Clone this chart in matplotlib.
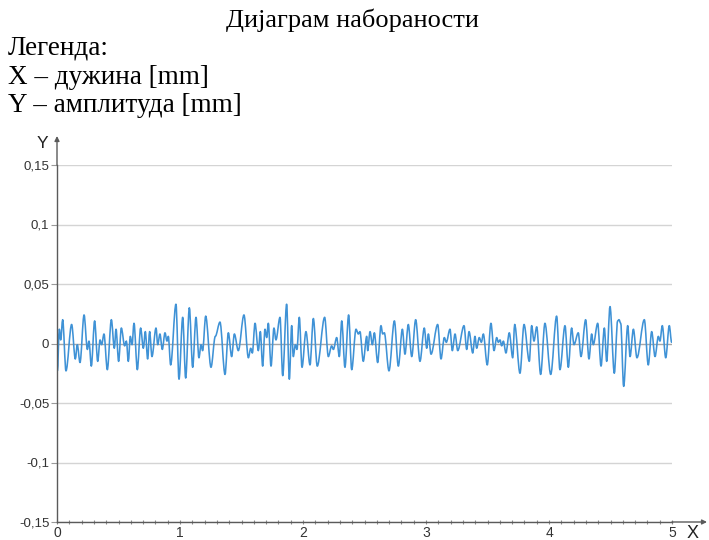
import matplotlib
matplotlib.use("Agg")
import matplotlib.pyplot as plt
from matplotlib.path import Path
from matplotlib.patches import PathPatch
from matplotlib.ticker import FixedLocator, MultipleLocator

# ---------------- data ----------------
title = "Дијаграм набораности"
legend_lines = ["Легенда:", "X – дужина [mm]", "Y – амплитуда [mm]"]
y_ticks = [-0.15, -0.1, -0.05, 0, 0.05, 0.1, 0.15]
y_tick_labels = ["-0,15", "-0,1", "-0,05", "0", "0,05", "0,1", "0,15"]
x_ticks = [0, 1, 2, 3, 4, 5]
x_tick_labels = ["0", "1", "2", "3", "4", "5"]

# profile extrema (x in mm, y in mm)
profile_x = [
    0.000, 0.003, 0.019, 0.030, 0.046, 0.073, 0.119, 0.149, 0.165, 0.187,
    0.220, 0.247, 0.260, 0.279, 0.306, 0.331, 0.350, 0.363, 0.382, 0.409,
    0.442, 0.466, 0.480, 0.501, 0.523, 0.550, 0.564, 0.580, 0.596, 0.610,
    0.626, 0.653, 0.680, 0.702, 0.718, 0.737, 0.753, 0.772,
    0.805, 0.819, 0.837, 0.856, 0.878, 0.894, 0.905, 0.924, 0.967, 0.992,
    1.022, 1.046, 1.076, 1.103, 1.130, 1.154, 1.171, 1.184, 1.209, 1.252,
    1.287, 1.325, 1.366, 1.393, 1.420, 1.442, 1.474, 1.520, 1.556, 1.575,
    1.588, 1.610, 1.637, 1.653, 1.672,
    1.691, 1.705, 1.718, 1.740, 1.764, 1.780, 1.813, 1.835, 1.867, 1.889,
    1.908, 1.921, 1.938, 1.951, 1.970, 1.992, 2.024, 2.057, 2.084, 2.116,
    2.176, 2.206, 2.233, 2.247, 2.274, 2.295, 2.315, 2.341, 2.371, 2.396,
    2.431, 2.450, 2.463, 2.490, 2.518,
    2.526, 2.545, 2.564, 2.580, 2.607, 2.634, 2.648, 2.661, 2.699, 2.743,
    2.775, 2.808, 2.829, 2.856, 2.884, 2.916, 2.951, 2.986, 3.006, 3.019,
    3.041, 3.095, 3.122, 3.149, 3.165, 3.195, 3.214, 3.236, 3.258, 3.309,
    3.331, 3.350,
    3.380, 3.398, 3.412, 3.433, 3.450, 3.466, 3.498, 3.528, 3.553, 3.575,
    3.588, 3.602, 3.615, 3.629, 3.650, 3.677, 3.705, 3.721, 3.764, 3.797,
    3.840, 3.859, 3.878, 3.900, 3.932, 3.967, 4.014, 4.062, 4.089, 4.130,
    4.157, 4.184, 4.203,
    4.238, 4.260, 4.298, 4.325, 4.347, 4.360, 4.396, 4.423, 4.450, 4.469,
    4.496, 4.531, 4.558, 4.569, 4.583, 4.607, 4.640, 4.659, 4.686, 4.715,
    4.775, 4.807, 4.835, 4.862, 4.889, 4.902, 4.921, 4.949, 4.978, 4.997,
]
profile_y = [
    -0.001, -0.023, 0.012, 0.003, 0.020, -0.023, 0.016, -0.013, -0.001, -0.016,
    0.024, -0.005, 0.002, -0.019, 0.019, -0.015, 0.003, -0.001, 0.008, -0.022,
    0.020, -0.004, 0.012, -0.015, 0.013, -0.002, 0.002, -0.015, 0.006, -0.001,
    0.017, -0.022, 0.013, -0.004, 0.010, -0.013, 0.010, -0.011,
    0.013, -0.001, 0.008, -0.005, 0.009, 0.002, 0.006, -0.018, 0.033, -0.030,
    0.022, -0.029, 0.030, -0.020, 0.022, -0.012, -0.001, -0.006, 0.023, -0.020,
    0.006, 0.018, -0.026, 0.009, -0.011, 0.008, -0.006, 0.024, -0.012, -0.004,
    -0.008, 0.017, -0.006, 0.010, -0.019,
    0.012, 0.005, 0.017, -0.019, 0.013, 0.003, 0.022, -0.027, 0.033, -0.030,
    0.015, -0.011, -0.001, -0.005, 0.022, -0.020, 0.010, -0.018, 0.021, -0.019,
    0.022, -0.011, -0.002, -0.005, 0.005, -0.011, 0.019, -0.020, 0.024, -0.022,
    0.012, 0.008, 0.010, -0.015, 0.006,
    -0.006, 0.010, -0.001, 0.009, -0.016, 0.015, 0.008, 0.009, -0.023, 0.019,
    -0.019, 0.012, -0.009, 0.016, -0.011, 0.020, -0.015, 0.013, -0.004, 0.008,
    -0.009, 0.016, -0.013, 0.005, 0.001, 0.012, -0.006, 0.008, -0.006, 0.015,
    -0.005, 0.010,
    -0.008, 0.006, -0.004, 0.005, 0.001, 0.008, -0.018, 0.017, -0.006, 0.005,
    0.001, 0.003, -0.002, 0.002, -0.008, 0.009, -0.012, 0.016, -0.025, 0.016,
    -0.015, 0.015, 0.002, 0.014, -0.026, 0.017, -0.026, 0.023, -0.022, 0.015,
    -0.020, 0.013, -0.001,
    0.009, -0.011, 0.020, -0.013, 0.008, -0.001, 0.017, -0.019, 0.013, -0.015,
    0.031, -0.025, 0.019, 0.020, 0.017, -0.036, 0.015, -0.011, 0.012, -0.012,
    0.020, -0.018, 0.010, -0.011, 0.006, 0.002, 0.015, -0.012, 0.015, 0.001,
]

# ---------------- figure ----------------
W, H = 709, 540
fig = plt.figure(figsize=(W / 100, H / 100), dpi=100)
fig.patch.set_facecolor("white")

serif = ["Liberation Serif", "DejaVu Serif"]
sans = ["Liberation Sans", "DejaVu Sans"]

fig.text(352 / W, 1 - 20 / H, title, family=serif, fontsize=19,
         ha="center", va="center", color="black")
for i, line in enumerate(legend_lines):
    fig.text(8 / W, 1 - (55 + 28.5 * i) / H, line, family=serif, fontsize=19.5,
             ha="left", va="baseline", color="black")

ax = fig.add_axes([57 / W, 18 / H, 615 / W, 357 / H])
ax.set_xlim(0, 5)
ax.set_ylim(-0.15, 0.15)

grid_c = "#d4d4d4"
axis_c = "#5a5a5a"
for yv in y_ticks:
    ax.axhline(yv, color=("#a8a8a8" if yv == 0 else grid_c), lw=1.0, zorder=1)

# smooth rendering of the profile through the read extrema
# (cubic Bezier segments with horizontal tangents at each read point)
verts = [(profile_x[0], profile_y[0])]
codes = [Path.MOVETO]
for i in range(len(profile_x) - 1):
    x0, y0 = profile_x[i], profile_y[i]
    x1, y1 = profile_x[i + 1], profile_y[i + 1]
    dx = (x1 - x0) / 3.0
    verts += [(x0 + dx, y0), (x1 - dx, y1), (x1, y1)]
    codes += [Path.CURVE4, Path.CURVE4, Path.CURVE4]
ax.add_patch(PathPatch(Path(verts, codes), facecolor="none",
                       edgecolor="#3f92d6", lw=1.15, zorder=3,
                       joinstyle="round", capstyle="round"))

for s in ["top", "right"]:
    ax.spines[s].set_visible(False)
for s in ["left", "bottom"]:
    ax.spines[s].set_color(axis_c)
    ax.spines[s].set_linewidth(1.0)
    ax.spines[s].set_zorder(4)

ax.yaxis.set_major_locator(FixedLocator(y_ticks))
ax.set_yticklabels(y_tick_labels, family=sans, fontsize=9.5, color="#333333")
ax.tick_params(axis="y", which="major", direction="out", length=4,
               width=0.8, color="#9a9a9a", pad=1.5)

ax.xaxis.set_major_locator(FixedLocator(x_ticks))
ax.xaxis.set_minor_locator(MultipleLocator(0.1))
ax.set_xticklabels(x_tick_labels, family=sans, fontsize=10, color="#333333")
ax.tick_params(axis="x", which="both", direction="inout", length=3,
               width=0.8, color="#8a8a8a", pad=1.5)

# axis arrows
ax.annotate("", xy=(57 / W, 1 - 136 / H), xytext=(57 / W, 1 - 165 / H),
            xycoords="figure fraction", textcoords="figure fraction",
            arrowprops=dict(arrowstyle="-|>", color=axis_c, lw=1.0,
                            mutation_scale=7, shrinkA=0, shrinkB=0))
ax.annotate("", xy=(707 / W, 18 / H), xytext=(672 / W, 18 / H),
            xycoords="figure fraction", textcoords="figure fraction",
            arrowprops=dict(arrowstyle="-|>", color=axis_c, lw=1.0,
                            mutation_scale=7, shrinkA=0, shrinkB=0))

fig.text(42 / W, 1 - 144 / H, "Y", family=sans, fontsize=12.5,
         ha="center", va="center", color="#222222")
fig.text(693 / W, 1 - 533 / H, "X", family=sans, fontsize=13,
         ha="center", va="center", color="#222222")

fig.savefig("out.png", dpi=100, facecolor="white")
